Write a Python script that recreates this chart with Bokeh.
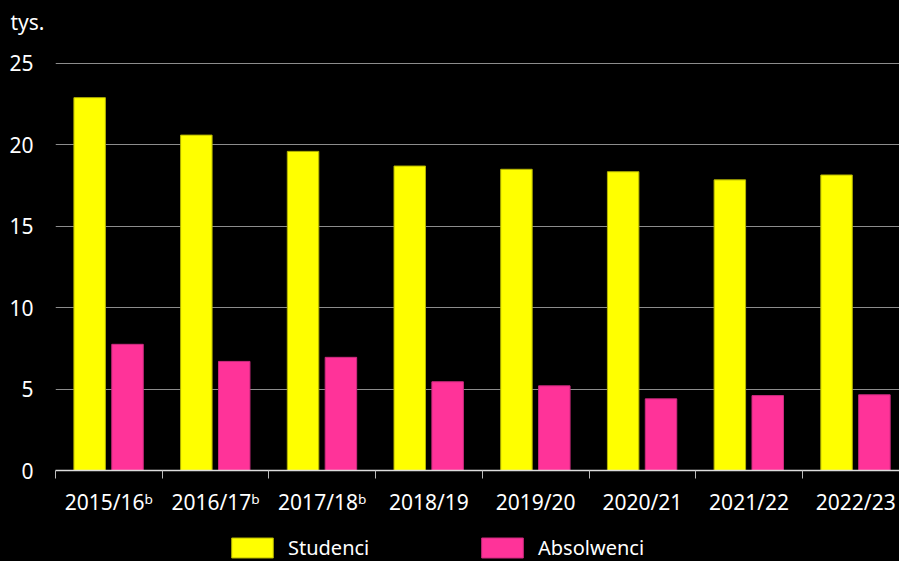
from bokeh.plotting import figure
from bokeh.layouts import column
from bokeh.models import (Range1d, FixedTicker, Legend, LegendItem, ColumnDataSource)
from bokeh.embed import file_html
from bokeh.resources import INLINE

years = ["2015/16ᵇ", "2016/17ᵇ", "2017/18ᵇ", "2018/19", "2019/20", "2020/21", "2021/22", "2022/23"]
studenci = [22.9, 20.6, 19.6, 18.7, 18.5, 18.35, 17.85, 18.15]
absolwenci = [7.75, 6.7, 6.95, 5.45, 5.2, 4.4, 4.6, 4.65]
y_ticks = [0, 5, 10, 15, 20, 25]
series_names = ["Studenci", "Absolwenci"]
series_colors = ["#FFFF00", "#FF3399"]
series_lines = ["#B3B300", "#CC2B7F"]

FONT = "Noto Sans"
centers = [i + 0.5 for i in range(len(years))]
src = ColumnDataSource(dict(
    xs=[c - 0.18 for c in centers],
    xa=[c + 0.175 for c in centers],
    s=studenci, a=absolwenci))

p = figure(width=899, height=532, output_backend="svg", toolbar_location=None,
           x_range=Range1d(0, 7.91), y_range=Range1d(0, 26.41),
           min_border_left=55, min_border_right=0, min_border_top=40, min_border_bottom=62,
           background_fill_color="black", border_fill_color="black", outline_line_color=None)
p.styles = {"background-color": "black"}

p.vbar(x="xs", top="s", width=0.295, source=src, fill_color=series_colors[0], line_color=series_lines[0], line_width=1)
p.vbar(x="xa", top="a", width=0.295, source=src, fill_color=series_colors[1], line_color=series_lines[1], line_width=1)

# x axis
xa = p.xaxis[0]
xa.ticker = FixedTicker(ticks=centers, minor_ticks=list(range(len(years))))
xa.major_label_overrides = {c: y for c, y in zip(centers, years)}
xa.major_tick_out = 0
xa.major_tick_in = 0
xa.minor_tick_out = 8
xa.minor_tick_in = 0
xa.minor_tick_line_color = "#BBBBBB"
xa.axis_line_color = "#DDDDDD"
xa.axis_line_width = 1.5
xa.major_label_text_color = "white"
xa.major_label_text_font = FONT
xa.major_label_text_font_size = "21px"
xa.major_label_standoff = 9

# y axis
ya = p.yaxis[0]
ya.ticker = FixedTicker(ticks=y_ticks)
ya.axis_line_color = None
ya.major_tick_line_color = None
ya.minor_tick_line_color = None
ya.major_label_text_color = "white"
ya.major_label_text_font = FONT
ya.major_label_text_font_size = "21px"
ya.major_label_standoff = 16

p.xgrid.grid_line_color = None
p.ygrid.ticker = FixedTicker(ticks=y_ticks[1:])
p.ygrid.grid_line_color = "#8C8C8C"
p.ygrid.grid_line_width = 1

p.title.text = "tys."
p.title.text_color = "white"
p.title.text_font = FONT
p.title.text_font_size = "21px"
p.title.text_font_style = "normal"
p.title.align = "left"
p.title.offset = -45

# legend strip (separate small figure below the chart); its renderers draw nothing
leg = figure(width=899, height=29, output_backend="svg", toolbar_location=None,
             x_range=Range1d(0, 1), y_range=Range1d(0, 1),
             x_axis_type=None, y_axis_type=None, min_border=0,
             background_fill_color="black", border_fill_color="black", outline_line_color=None)
leg.styles = {"background-color": "black"}
leg.xgrid.visible = False
leg.ygrid.visible = False
items = []
nan = float("nan")
for name, fc, lc in zip(series_names, series_colors, series_lines):
    r = leg.vbar(x=[nan], top=[nan], width=0.1, fill_color=fc, line_color=lc)
    items.append(LegendItem(label=name, renderers=[r]))
legend = Legend(items=items, orientation="horizontal", location=(171, 0),
                glyph_width=52, glyph_height=25, label_standoff=10, label_width=178,
                spacing=10, padding=0, margin=0,
                border_line_color=None, background_fill_alpha=0,
                label_text_color="white", label_text_font=FONT, label_text_font_size="20px")
leg.add_layout(legend, "center")

layout = column(p, leg, spacing=0)
layout.styles = {"background-color": "black"}

open("out.html", "w").write(file_html(layout, INLINE))
